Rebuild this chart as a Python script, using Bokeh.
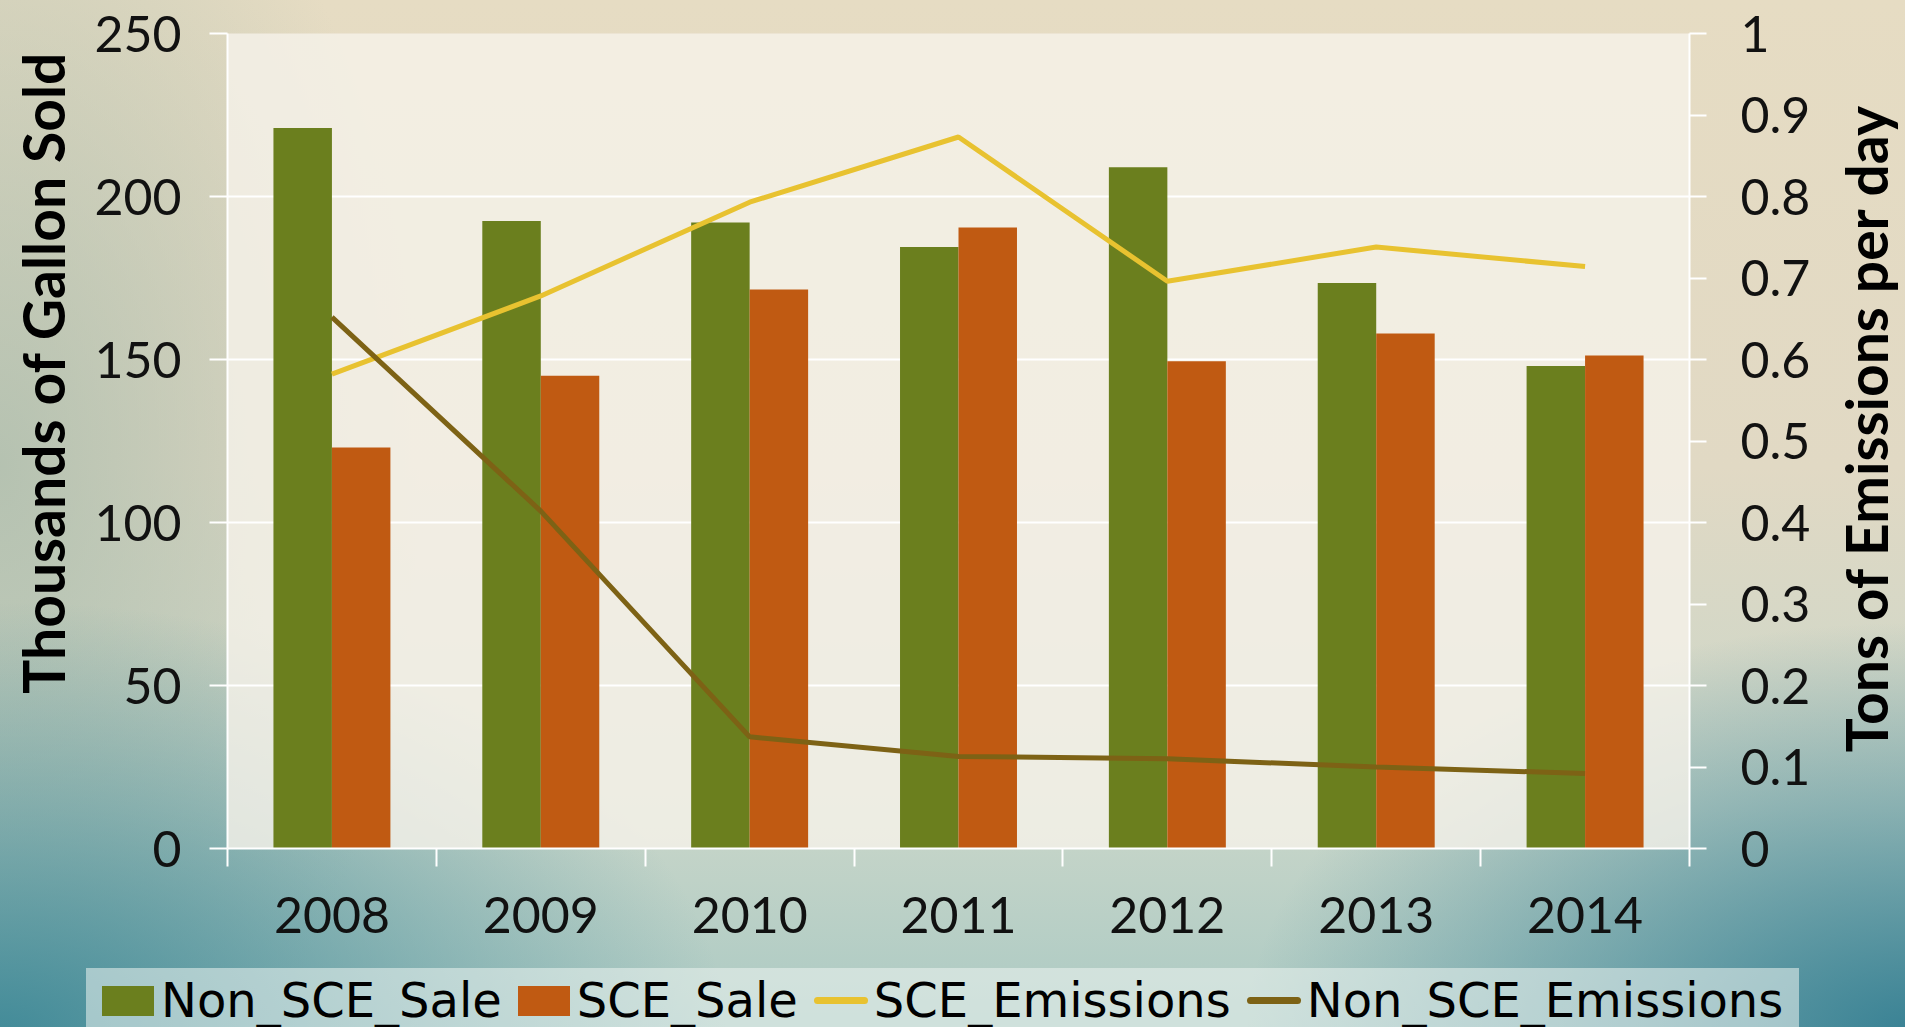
from bokeh.plotting import figure
from bokeh.layouts import column, row
from bokeh.models import (FactorRange, Range1d, LinearAxis, CategoricalAxis, FixedTicker,
                          Grid, ColumnDataSource, Title, Div)
from bokeh.transform import dodge
from bokeh.embed import file_html
from bokeh.resources import INLINE

# ---- data ----
years = ["2008", "2009", "2010", "2011", "2012", "2013", "2014"]
non_sce_sale = [221, 192.5, 192, 184.5, 209, 173.5, 148]
sce_sale = [123, 145, 171.5, 190.5, 149.5, 158, 151.2]
sce_emissions = [0.582, 0.678, 0.793, 0.873, 0.696, 0.738, 0.714]
non_sce_emissions = [0.652, 0.414, 0.137, 0.113, 0.110, 0.100, 0.092]
left_ticks = [0, 50, 100, 150, 200, 250]
right_ticks = [0, 0.1, 0.2, 0.3, 0.4, 0.5, 0.6, 0.7, 0.8, 0.9, 1]
right_tick_labels = ["0", "0.1", "0.2", "0.3", "0.4", "0.5", "0.6", "0.7", "0.8", "0.9", "1"]
series_names = ["Non_SCE_Sale", "SCE_Sale", "SCE_Emissions", "Non_SCE_Emissions"]
left_title = "Thousands of Gallon Sold"
right_title = "Tons of Emissions per day"

GREEN = "#6b7f1e"
ORANGE = "#c05a12"
YELLOW = "#e8c230"
OLIVE = "#7d6215"
series_colors = [GREEN, ORANGE, YELLOW, OLIVE]
series_kinds = ["bar", "bar", "line", "line"]
TICK_FONT = "Lato"

source = ColumnDataSource(dict(year=years, non=non_sce_sale, sce=sce_sale,
                               sce_em=sce_emissions, non_em=non_sce_emissions))

W = 1905
CHART_H = 963
LEG_H = 1027 - CHART_H
RT_W = 76
P_W = W - RT_W
FRAME_TOP, FRAME_BOTTOM, FRAME_LEFT, FRAME_RIGHT = 33, 848, 227, 1689

p = figure(width=P_W, height=CHART_H, x_range=FactorRange(*years),
           y_range=Range1d(0, 250), x_axis_location=None, y_axis_location=None,
           toolbar_location=None, output_backend="svg",
           min_border_left=FRAME_LEFT, min_border_right=P_W - FRAME_RIGHT,
           min_border_top=FRAME_TOP, min_border_bottom=CHART_H - FRAME_BOTTOM)
p.extra_y_ranges = {"em": Range1d(0, 1)}

p.border_fill_alpha = 0
p.background_fill_color = "#f5f1e9"
p.background_fill_alpha = 0.82
p.outline_line_color = None

for g in p.xgrid + p.ygrid:
    g.visible = False

# left axis
yl = LinearAxis(ticker=FixedTicker(ticks=left_ticks),
                axis_line_color="white", axis_line_width=2,
                major_tick_line_color="white", major_tick_line_width=2,
                major_tick_out=18, major_tick_in=0, minor_tick_line_color=None,
                major_label_standoff=28,
                major_label_text_font=TICK_FONT, major_label_text_font_size="50px",
                major_label_text_color="#111111",
                axis_label="\u00a0" * 10 + left_title, axis_label_text_font="Lato",
                axis_label_text_font_style="bold", axis_label_text_font_size="57px",
                axis_label_text_color="#000000", axis_label_standoff=14)
p.add_layout(yl, "left")

# right axis (its title is drawn in the strip to the right)
yr = LinearAxis(y_range_name="em", ticker=FixedTicker(ticks=right_ticks),
                major_label_overrides={t: l for t, l in zip(right_ticks, right_tick_labels)},
                axis_line_color="white", axis_line_width=2,
                major_tick_line_color="white", major_tick_line_width=2,
                major_tick_out=17, major_tick_in=0, minor_tick_line_color=None,
                major_label_standoff=34,
                major_label_text_font=TICK_FONT, major_label_text_font_size="50px",
                major_label_text_color="#111111")
p.add_layout(yr, "right")

# bottom: ticks at category boundaries, then category labels
edge_ticks = list(range(len(years) + 1))
xt = LinearAxis(ticker=FixedTicker(ticks=edge_ticks),
                major_label_overrides={t: "" for t in edge_ticks},
                major_label_text_font_size="1px", major_label_standoff=0,
                axis_line_color="white", axis_line_width=2,
                major_tick_line_color="white", major_tick_line_width=2,
                major_tick_out=18, major_tick_in=0, minor_tick_line_color=None)
p.add_layout(xt, "below")
xc = CategoricalAxis(axis_line_color=None, major_tick_line_color=None,
                     major_tick_out=0, major_tick_in=0, major_label_standoff=30,
                     major_label_text_font=TICK_FONT, major_label_text_font_size="50px",
                     major_label_text_color="#111111")
p.add_layout(xc, "below")

p.add_layout(Grid(dimension=1, axis=yl, grid_line_color="white", grid_line_width=2))

p.vbar(x=dodge("year", -0.14, range=p.x_range), top="non", width=0.28,
       source=source, fill_color=GREEN, line_color=None)
p.vbar(x=dodge("year", 0.14, range=p.x_range), top="sce", width=0.28,
       source=source, fill_color=ORANGE, line_color=None)
p.line(x="year", y="sce_em", y_range_name="em", source=source,
       line_color=YELLOW, line_width=5)
p.line(x="year", y="non_em", y_range_name="em", source=source,
       line_color=OLIVE, line_width=5)

# right-hand title strip (reads bottom-to-top like the reference)
rt = figure(width=RT_W, height=CHART_H, x_axis_location=None, y_axis_location=None,
            toolbar_location=None, output_backend="svg",
            x_range=Range1d(0, 1), y_range=Range1d(0, 1),
            min_border_left=0, min_border_right=0,
            min_border_top=FRAME_TOP, min_border_bottom=CHART_H - FRAME_BOTTOM)
rt.xgrid.visible = False
rt.ygrid.visible = False
rt.border_fill_alpha = 0
rt.background_fill_alpha = 0
rt.outline_line_color = None
rt.add_layout(Title(text="\u00a0\u00a0" + right_title, align="center",
                    text_font="Lato", text_font_style="bold", text_font_size="57px",
                    text_color="#000000", standoff=0), "left")

# legend strip
items = []
for name, color, kind in zip(series_names, series_colors, series_kinds):
    if kind == "bar":
        sw = f'<span style="display:inline-block;width:52px;height:30px;background:{color};margin-right:7px"></span>'
    else:
        sw = f'<span style="display:inline-block;width:54px;height:7px;border-radius:4px;background:{color};margin-right:6px"></span>'
    items.append(f'<span style="display:inline-flex;align-items:center;margin-right:16px">{sw}<span>{name}</span></span>')
legend_html = ('<div style="display:inline-flex;align-items:center;margin-left:81px;'
               'padding:6px 0 2px 16px;background:rgba(236,244,241,0.55);'
               "font-family:'DejaVu Sans';font-size:48px;line-height:1.12;color:#000;"
               'white-space:nowrap">' + "".join(items) + '</div>')
leg = Div(text=legend_html, width=W, height=LEG_H)

layout = column(row(p, rt, spacing=0), leg, spacing=0)
layout.styles = {"background": (
    "radial-gradient(ellipse 38% 42% at 0% 100%, rgba(60,135,150,0.95) 0%, rgba(60,135,150,0) 100%), "
    "radial-gradient(ellipse 35% 40% at 100% 100%, rgba(50,125,145,0.95) 0%, rgba(50,125,145,0) 100%), "
    "radial-gradient(ellipse 22% 70% at 0% 45%, rgba(170,188,172,0.8) 0%, rgba(170,188,172,0) 100%), "
    "linear-gradient(180deg, #e6dcc3 0%, #e1d9c4 45%, #c9d6c9 78%, #a9c9c3 100%)")}

open("out.html", "w").write(file_html(layout, INLINE))
